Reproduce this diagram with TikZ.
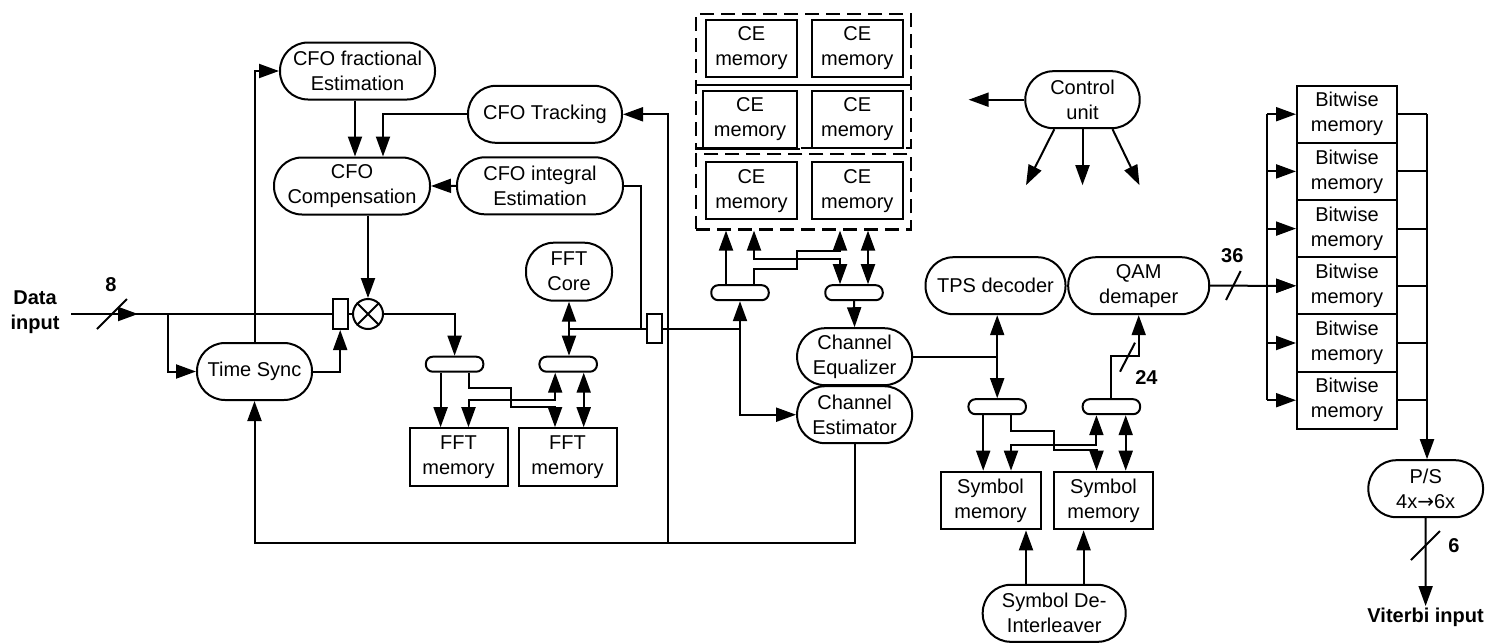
\documentclass[tikz,border=0pt]{standalone}
\usepackage{fontspec}
\setmainfont{Liberation Sans}
\newfontfamily\arrowfont{DejaVu Sans}
\usetikzlibrary{arrows.meta}

\begin{document}
\begin{tikzpicture}[
    x=1pt, y=-1pt,
    line width=2pt,
    font=\fontsize{20}{25}\selectfont,
    line/.style={-{Triangle[length=20pt,width=14pt]}},
    dline/.style={{Triangle[length=20pt,width=14pt]}-{Triangle[length=20pt,width=14pt]}},
    block/.style={draw, rounded corners=28pt, minimum height=57pt, align=center, inner sep=2pt},
    mem/.style={draw, minimum height=57pt, align=center, inner sep=2pt},
    mux/.style={draw, rounded corners=7pt, minimum width=57.5pt, minimum height=15pt, inner sep=0pt},
    reg/.style={draw, minimum width=15pt, minimum height=30pt, inner sep=0pt},
    lbl/.style={font=\fontsize{20}{25}\selectfont\bfseries, align=center},
    group/.style={draw, dash pattern=on 14pt off 7pt, line width=2.5pt, inner sep=0pt}
]
    \useasboundingbox (0,0) rectangle (1490,643);

    % Front end: CFO and timing
    \node[lbl] (din) at (35,312.5) {Data\\input};
    \node[block, minimum width=115pt] (tsync) at (254.5,371.5) {Time Sync};
    \node[block, minimum width=155pt] (cfofrac) at (357.5,71) {CFO fractional\\Estimation};
    \node[block, minimum width=156pt] (cfocomp) at (352,186) {CFO\\Compensation};
    \node[block, minimum width=154pt] (cfotrack) at (545,114.3) {CFO Tracking};
    \node[block, minimum width=166pt] (cfoint) at (540,185.8) {CFO integral\\Estimation};
    \node[reg] (reg1) at (340.2,314) {};
    \node[draw, circle, minimum size=30pt, inner sep=0pt] (mix) at (368,314) {};
    \draw (mix.north west) -- (mix.south east) (mix.north east) -- (mix.south west);

    % FFT
    \node[block, minimum width=86pt, minimum height=58pt] (fftcore) at (569,271.7) {FFT\\Core};
    \node[reg, minimum height=29pt] (reg2) at (654.5,328.7) {};
    \node[mux] (mux1) at (454.6,364.2) {};
    \node[mux] (mux2) at (568.2,364.2) {};
    \node[mem, minimum width=98pt, minimum height=58pt] (fftmem1) at (458.5,457.2) {FFT\\memory};
    \node[mem, minimum width=98pt, minimum height=58pt] (fftmem2) at (567.5,457.2) {FFT\\memory};

    % Channel estimation memories
    \node[group, minimum width=215pt, minimum height=134pt] (ceup) at (803.5,81) {};
    \node[group, minimum width=215pt, minimum height=75.3pt] (cebox) at (803.5,191.7) {};
    \draw (ceup.west |- 0,85) -- (ceup.east |- 0,85);
    \draw (ceup.south west) -- ++(105,0);
    \node[mem, minimum width=91.5pt] (ce11) at (751.4,48.3) {CE\\memory};
    \node[mem, minimum width=91.5pt] (ce12) at (857.3,48.3) {CE\\memory};
    \node[mem, minimum width=93.5pt] (ce21) at (750.1,119.2) {CE\\memory};
    \node[mem, minimum width=91.5pt] (ce22) at (857.3,119.2) {CE\\memory};
    \node[mem, minimum width=91.5pt] (ce31) at (751.4,190.7) {CE\\memory};
    \node[mem, minimum width=91.5pt] (ce32) at (857.3,190.7) {CE\\memory};
    \node[mux] (mux3) at (740,292.7) {};
    \node[mux] (mux4) at (854,292.7) {};
    \node[block, minimum width=115pt] (cheq) at (854.6,356.7) {Channel\\Equalizer};
    \node[block, minimum width=115pt] (chest) at (854.6,414.7) {Channel\\Estimator};

    % Demapping and de-interleaving
    \node[block, minimum width=114.4pt] (ctrl) at (1082.5,99.7) {Control\\unit};
    \node[block, minimum width=140pt] (tps) at (995.5,285.7) {TPS decoder};
    \node[block, minimum width=141pt] (qam) at (1138.7,285.7) {QAM\\demaper};
    \node[mux] (mux5) at (997.2,406.7) {};
    \node[mux] (mux6) at (1111.4,406.7) {};
    \node[mem, minimum width=100pt, minimum height=57.7pt] (symmem1) at (990.5,500.5) {Symbol\\memory};
    \node[mem, minimum width=98.5pt, minimum height=57.7pt] (symmem2) at (1103.5,500.5) {Symbol\\memory};
    \node[block, minimum width=143pt] (deint) at (1054.2,613.3) {Symbol De-\\Interleaver};

    % Bitwise memories and output
    \foreach \i in {1,...,6}
        \node[mem, minimum width=100pt, minimum height=57.2pt] (bit\i) at (1347,{114.2+57.2*(\i-1)}) {Bitwise\\memory};
    \node[block, minimum width=114.7pt] (ps) at (1425.7,488.7) {P/S\\4x{\arrowfont →}6x};
    \node[lbl, anchor=north, inner sep=1pt] (vit) at (1425.6,606) {Viterbi input};

    % Input and time sync
    \coordinate (datain) at (71,314);
    \coordinate (inarr) at (138,314);
    \coordinate (split1) at (168,314);
    \draw (datain) -- (reg1.west);
    \draw[line] (datain) -- (inarr);
    \draw (97,329) -- (127,299);
    \node[lbl] (w8) at (111,285) {8};
    \draw[line] (split1) |- (tsync.west);
    \draw[line] (tsync.north) |- (cfofrac.west);
    \draw[line] (tsync.east) -| (reg1.south);
    \draw (reg1.east) -- (mix.west);

    % CFO loop
    \coordinate (f1) at ([xshift=-2.5pt]cfofrac.south);
    \draw[line] (f1) -- (f1 |- cfocomp.north);
    \draw[line] (cfotrack.west) -| ([xshift=31pt]cfocomp.north);
    \draw[line] (cfoint.west) -- (cfocomp.east);
    \draw[line] (cfocomp.south -| mix.north) -- (mix.north);
    \draw (cfoint.east) -- ++(17.1,0) |- (reg2.west);

    % FFT memories
    \draw[line] (mix.east) -| (mux1.north);
    \coordinate (m1a) at ([xshift=-14pt]mux1.south);
    \draw[line] (m1a) -- (m1a |- fftmem1.north);
    \draw[line] ([xshift=14pt]mux1.south) -- ++(0,15.6) -| (511.4,406.7) -| ([xshift=-12.5pt]fftmem2.north);
    \draw[dline] ([xshift=-13pt]mux2.south) -- ++(0,27.6) -| ([xshift=10pt]fftmem1.north);
    \coordinate (m2b) at ([xshift=15.5pt]mux2.south);
    \draw[dline] (m2b) -- (m2b |- fftmem2.north);
    \draw[dline] (fftcore.south) -- (fftcore.south |- mux2.north);
    \draw (fftcore.south |- reg2.west) -- (reg2.west);

    % Channel estimation
    \coordinate (j2) at (reg2.east -| mux3.south);
    \draw[line] (reg2.east) -- (j2) -- (mux3.south);
    \draw[line] (j2) |- (chest.west);
    \coordinate (m3a) at ([xshift=-14pt]mux3.north);
    \coordinate (m3b) at ([xshift=14pt]mux3.north);
    \coordinate (m4a) at ([xshift=-14pt]mux4.north);
    \coordinate (m4b) at ([xshift=14pt]mux4.north);
    \draw[line] (m3a) -- (m3a |- cebox.south);
    \draw[line] (m3b) -- ++(0,-15) -| (796.7,250.7) -| (m4a |- cebox.south);
    \draw[dline] (m3b |- cebox.south) -- ++(0,28) -| (m4a);
    \draw[dline] (m4b |- cebox.south) -- (m4b);
    \draw[line] (mux4.south) -- (cheq.north);

    % Feedback from channel estimator
    \coordinate (fb) at (668,543);
    \draw[line] (chest.south) |- (fb) -| (tsync.south);
    \draw[line] (fb) |- (cfotrack.east);

    % TPS, QAM and symbol memories
    \draw (cheq.east) -- (cheq.east -| mux5.north);
    \draw[dline] (tps.south -| mux5.north) -- (mux5.north);
    \coordinate (m5a) at ([xshift=-14pt]mux5.south);
    \draw[line] (m5a) -- (m5a |- symmem1.north);
    \draw[line] ([xshift=14pt]mux5.south) -- ++(0,16) -| (1054,450) -| ([xshift=-7pt]symmem2.north);
    \draw[dline] ([xshift=-15pt]mux6.south) -- ++(0,29.3) -| ([xshift=20.5pt]symmem1.north);
    \coordinate (m6b) at ([xshift=14.3pt]mux6.south);
    \draw[dline] (m6b) -- (m6b |- symmem2.north);
    \draw[line] (mux6.north) -- ++(0,-42.5) -| (qam.south);
    \draw (1120,371.7) -- (1135,342.7);
    \node[lbl] (w24) at (1146.4,377.3) {24};
    \coordinate (d1) at ([xshift=-28.2pt]deint.north);
    \coordinate (d2) at ([xshift=29.4pt]deint.north);
    \draw[line] (d1) -- (d1 |- symmem1.south);
    \draw[line] (d2) -- (d2 |- symmem2.south);

    % Control unit
    \draw[line] (ctrl.west) -- ++(-55.7,0);
    \draw[line] ([xshift=-28.2pt]ctrl.south) -- ++(-28.3,56);
    \draw[line] (ctrl.south) -- ++(0,56);
    \draw[line] ([xshift=30pt]ctrl.south) -- ++(27,56);

    % Bitwise memories
    \draw[line] (qam.east) -- (bit4.west);
    \draw (1226,300) -- (1240.7,271);
    \node[lbl] (w36) at (1232.3,256) {36};
    \coordinate (bl) at ([xshift=-29pt]bit1.west);
    \coordinate (bl6) at ([xshift=-29pt]bit6.west);
    \draw (bl) -- (bl6);
    \foreach \i in {1,...,6}
        \draw[line] ([xshift=-29pt]bit\i.west) -- (bit\i.west);
    \coordinate (br) at ([xshift=29pt]bit1.east);
    \foreach \i in {1,...,6}
        \draw (bit\i.east) -- ++(29,0);
    \draw[line] (br) -- (br |- ps.north);

    % Output
    \draw[line] (ps.south) -- (vit.north);
    \draw (1410.9,560) -- (1439.9,531);
    \node[lbl] (w6) at (1453.8,545.7) {6};
\end{tikzpicture}
\end{document}
